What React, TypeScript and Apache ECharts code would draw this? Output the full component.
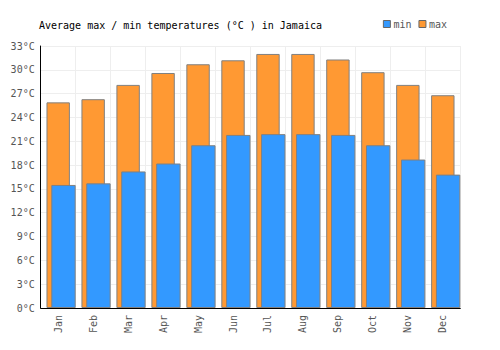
import React, { useEffect, useRef } from "react";
import * as echarts from "echarts";

const months = ["Jan", "Feb", "Mar", "Apr", "May", "Jun", "Jul", "Aug", "Sep", "Oct", "Nov", "Dec"];
const maxTemps = [25.9, 26.3, 28.1, 29.6, 30.7, 31.2, 32.0, 32.0, 31.3, 29.7, 28.1, 26.8];
const minTemps = [15.5, 15.7, 17.2, 18.2, 20.5, 21.8, 21.9, 21.9, 21.8, 20.5, 18.7, 16.8];
const titleText = "Average max / min temperatures (°C ) in Jamaica";

const FONT = "DejaVu Sans Mono";

export default function App() {
  const ref = useRef<HTMLDivElement>(null);
  useEffect(() => {
    if (!ref.current) return;
    const chart = echarts.init(ref.current, null, { renderer: "svg" });
    const barBorder = { borderColor: "#808080", borderWidth: 1 };
    chart.setOption({
      animation: false,
      backgroundColor: "#fff",
      title: {
        text: titleText,
        left: 34,
        top: 15,
        textStyle: { fontFamily: FONT, fontSize: 10, fontWeight: "normal", color: "#000" },
      },
      legend: {
        data: ["min", "max"],
        right: 48,
        top: 14,
        icon: "rect",
        itemWidth: 7,
        itemHeight: 7,
        itemGap: 7,
        itemStyle: { borderColor: "#666", borderWidth: 1 },
        textStyle: { fontFamily: FONT, fontSize: 10, color: "#555", padding: [0, 0, 0, -2] },
      },
      grid: { left: 40.7, right: 39.7, top: 46, bottom: 42, containLabel: false },
      xAxis: [
        {
          type: "category",
          data: months,
          axisLine: { show: true, lineStyle: { color: "#000", width: 1 } },
          axisTick: { show: false },
          splitLine: { show: true, lineStyle: { color: "#eeeeee", width: 1 } },
          axisLabel: { rotate: 90, margin: 7, fontFamily: FONT, fontSize: 10, color: "#555", interval: 0 },
        },
        {
          type: "category",
          data: months,
          show: false,
        },
      ],
      yAxis: {
        type: "value",
        min: 0,
        max: 33,
        interval: 3,
        axisLine: { show: true, lineStyle: { color: "#000", width: 1 } },
        axisTick: { show: false },
        splitLine: { show: true, lineStyle: { color: "#eeeeee", width: 1 } },
        axisLabel: { formatter: "{value}°C", margin: 6, fontFamily: FONT, fontSize: 10, color: "#555" },
      },
      series: [
        {
          name: "max",
          type: "bar",
          xAxisIndex: 0,
          data: maxTemps,
          barWidth: 23.4,
          itemStyle: { color: "#ff9933", ...barBorder },
          z: 2,
        },
        {
          name: "pad",
          type: "bar",
          xAxisIndex: 1,
          data: [],
          barWidth: 10.6,
          barGap: 0,
          itemStyle: { color: "transparent" },
          silent: true,
        },
        {
          name: "min",
          type: "bar",
          xAxisIndex: 1,
          data: minTemps,
          barWidth: 24.4,
          barGap: 0,
          itemStyle: { color: "#3399ff", ...barBorder },
          z: 3,
        },
      ],
    });
    return () => chart.dispose();
  }, []);
  return <div ref={ref} style={{ width: 500, height: 350, margin: -8 }} />;
}
